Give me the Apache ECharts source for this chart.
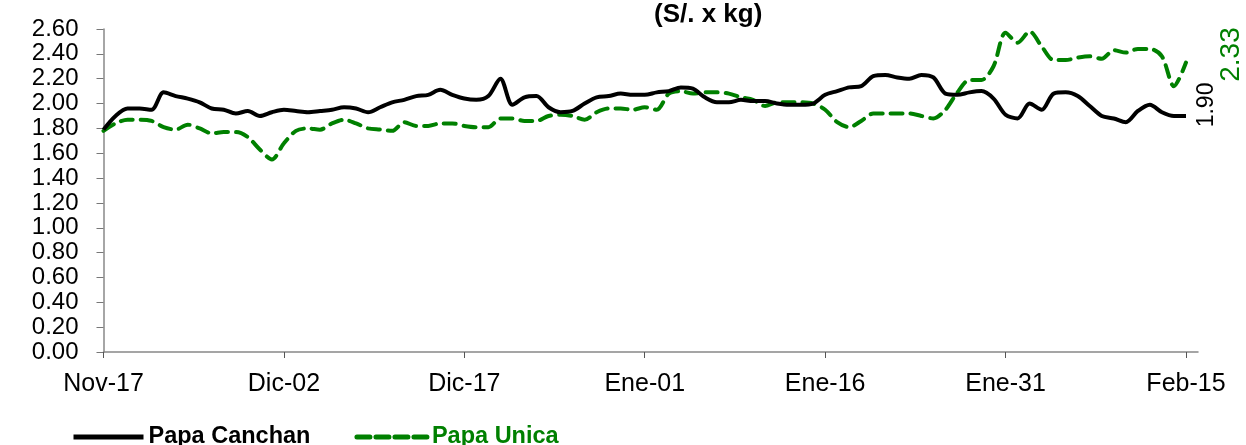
<!DOCTYPE html>
<html>
<head>
<meta charset="utf-8">
<script src="https://cdn.jsdelivr.net/npm/echarts@6/dist/echarts.min.js"></script>
<style>
  html, body { margin: 0; padding: 0; background: #fff; }
  #chart { width: 1246px; height: 445px; }
</style>
</head>
<body>
<div id="chart"></div>
<script>
// precios diarios, Nov-17 a Feb-15 (S/. x kg)
const meses = ["Ene", "Feb", "Mar", "Abr", "May", "Jun", "Jul", "Ago", "Sep", "Oct", "Nov", "Dic"]
const tickLabels = ["Nov-17", "Dic-02", "Dic-17", "Ene-01", "Ene-16", "Ene-31", "Feb-15"]

const papaCanchan = [
    1.79, 1.90, 1.96, 1.96, 1.95, 2.09, 2.06, 2.04, 2.01, 1.96,
    1.95, 1.92, 1.94, 1.90, 1.93, 1.95, 1.94, 1.93, 1.94, 1.95,
    1.97, 1.96, 1.93, 1.97, 2.01, 2.03, 2.06, 2.07, 2.11, 2.07,
    2.04, 2.03, 2.06, 2.20, 1.99, 2.05, 2.06, 1.97, 1.93, 1.94,
    2.00, 2.05, 2.06, 2.08, 2.07, 2.07, 2.09, 2.10, 2.13, 2.12,
    2.05, 2.01, 2.01, 2.03, 2.02, 2.02, 2.00, 1.99, 1.99, 2.00,
    2.07, 2.10, 2.13, 2.14, 2.22, 2.23, 2.21, 2.20, 2.23, 2.21,
    2.08, 2.07, 2.09, 2.10, 2.04, 1.91, 1.88, 2.00, 1.95, 2.08,
    2.09, 2.06, 1.98, 1.90, 1.88, 1.85, 1.94, 1.99, 1.93, 1.90,
    1.90
]

const papaUnica = [
    1.78, 1.84, 1.87, 1.87, 1.86, 1.81, 1.79, 1.83, 1.80, 1.76,
    1.77, 1.77, 1.73, 1.63, 1.55, 1.68, 1.78, 1.80, 1.79, 1.84,
    1.87, 1.84, 1.80, 1.79, 1.78, 1.85, 1.82, 1.82, 1.84, 1.84,
    1.82, 1.81, 1.81, 1.88, 1.88, 1.86, 1.86, 1.90, 1.91, 1.90,
    1.87, 1.93, 1.96, 1.96, 1.95, 1.97, 1.95, 2.08, 2.10, 2.08,
    2.09, 2.09, 2.08, 2.05, 2.03, 1.98, 2.01, 2.01, 2.01, 2.00,
    1.95, 1.85, 1.81, 1.86, 1.92, 1.92, 1.92, 1.92, 1.90, 1.88,
    1.95, 2.09, 2.19, 2.19, 2.30, 2.57, 2.49, 2.58, 2.46, 2.35,
    2.35, 2.37, 2.38, 2.36, 2.43, 2.41, 2.44, 2.44, 2.38, 2.14,
    2.33
]

// one day per category, plus one empty day so the axis runs past Feb-15
const fechas = []
const d = new Date(2017, 10, 17)
for (let i = 0; i <= papaCanchan.length; i++) {
    fechas.push(meses[d.getMonth()] + "-" + String(d.getDate()).padStart(2, "0"))
    d.setDate(d.getDate() + 1)
}

const FONT = "'Liberation Sans', Arial, sans-serif"
const VERDE = "#008000"
const last = papaCanchan.length - 1
const esTick = (idx, val) => tickLabels.includes(val) && idx <= last

const chart = echarts.init(document.getElementById("chart"))
chart.setOption({
    animation: false,
    title: {
        text: "(S/. x kg)",
        left: 649,
        top: -3,
        textStyle: { fontFamily: FONT, fontSize: 26, fontWeight: "bold", color: "#000" }
    },
    legend: {
        left: 66,
        top: 420,
        itemWidth: 70,
        itemHeight: 14,
        itemGap: 44,
        itemStyle: { opacity: 0 },
        textStyle: { fontFamily: FONT, fontSize: 23.5, fontWeight: "bold" },
        data: [
            { name: "Papa Canchan", textStyle: { color: "#000" }, lineStyle: { width: 5 } },
            { name: "Papa Unica", textStyle: { color: VERDE }, lineStyle: { width: 5, type: [13, 6] } }
        ]
    },
    grid: { left: 103.5, right: 48, top: 29, bottom: 93 },
    xAxis: {
        type: "category",
        data: fechas,
        boundaryGap: false,
        axisLine: { lineStyle: { color: "#888", width: 1.5 } },
        axisTick: { interval: esTick, length: 6, lineStyle: { color: "#555" } },
        axisLabel: {
            interval: esTick,
            margin: 20,
            color: "#000",
            fontFamily: FONT,
            fontSize: 25
        },
        splitLine: { show: false }
    },
    yAxis: {
        type: "value",
        min: 0,
        max: 2.6,
        interval: 0.2,
        axisLine: { show: true, lineStyle: { color: "#888", width: 1.5 } },
        axisTick: { show: true, length: 7, lineStyle: { color: "#777" } },
        axisLabel: {
            margin: 25,
            color: "#000",
            fontFamily: FONT,
            fontSize: 24,
            showMinLabel: true,
            showMaxLabel: true,
            formatter: (v) => v.toFixed(2)
        },
        splitLine: { show: false }
    },
    series: [
        {
            name: "Papa Canchan",
            type: "line",
            data: papaCanchan,
            smooth: 0.3,
            symbol: "none",
            color: "#000",
            lineStyle: { color: "#000", width: 4 },
            markPoint: {
                symbol: "circle",
                symbolSize: 1,
                itemStyle: { color: "transparent" },
                label: {
                    show: true,
                    position: "inside",
                    rotate: 90,
                    offset: [11, 21],
                    formatter: (p) => p.value.toFixed(2),
                    color: "#000",
                    fontFamily: FONT,
                    fontSize: 23
                },
                data: [{ coord: [last, papaCanchan[last]], value: papaCanchan[last] }]
            },
            z: 3
        },
        {
            name: "Papa Unica",
            type: "line",
            data: papaUnica,
            smooth: 0.3,
            symbol: "none",
            color: VERDE,
            lineStyle: { color: VERDE, width: 4, type: [12, 8], cap: "round" },
            markPoint: {
                symbol: "circle",
                symbolSize: 1,
                itemStyle: { color: "transparent" },
                label: {
                    show: true,
                    position: "inside",
                    rotate: 90,
                    offset: [8, 45],
                    formatter: (p) => p.value.toFixed(2),
                    color: VERDE,
                    fontFamily: FONT,
                    fontSize: 28
                },
                data: [{ coord: [last, papaUnica[last]], value: papaUnica[last] }]
            },
            z: 2
        }
    ]
})
</script>
</body>
</html>
